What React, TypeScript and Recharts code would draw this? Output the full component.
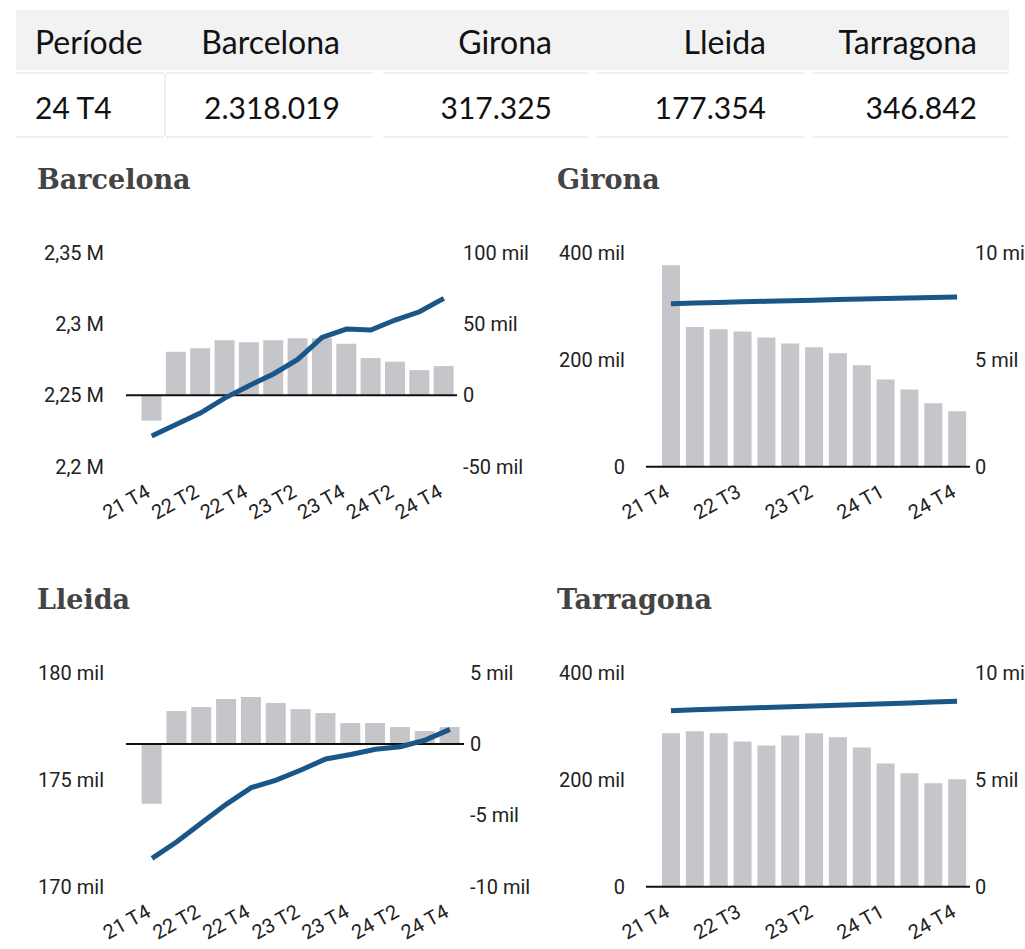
import React from "react";
import { Bar, ComposedChart, Line, ReferenceLine, XAxis, YAxis } from "recharts";

const quarters = [
  "21 T4", "22 T1", "22 T2", "22 T3", "22 T4", "23 T1", "23 T2",
  "23 T3", "23 T4", "24 T1", "24 T2", "24 T3", "24 T4",
];

// values in thousands
const barcelonaTotal = [2221.5, 2229.5, 2237.6, 2248.1, 2256.8, 2265.0, 2275.2, 2290.6, 2296.5, 2295.8, 2302.8, 2308.6, 2318.0];
const barcelonaChange = [-17.7, 30.6, 33.1, 38.7, 37.3, 38.7, 40.1, 40.1, 36.2, 26.1, 23.6, 17.7, 20.5];

const gironaTotal = [304.6, 305.8, 307.0, 308.1, 309.2, 310.2, 311.3, 312.3, 313.4, 314.4, 315.4, 316.4, 317.3];
const gironaChange = [9.41, 6.53, 6.42, 6.32, 6.04, 5.76, 5.58, 5.3, 4.74, 4.08, 3.61, 2.96, 2.59];

const lleidaTotal = [171.32, 172.1, 172.99, 173.86, 174.63, 174.98, 175.45, 175.97, 176.18, 176.42, 176.54, 176.85, 177.35];
const lleidaChange = [-4.18, 2.31, 2.59, 3.15, 3.29, 2.87, 2.45, 2.17, 1.47, 1.47, 1.19, 0.91, 1.19];

const tarragonaTotal = [329.1, 330.6, 332.0, 333.4, 334.9, 336.3, 337.7, 339.1, 340.5, 341.9, 343.4, 345.1, 346.8];
const tarragonaChange = [7.17, 7.26, 7.17, 6.79, 6.6, 7.07, 7.17, 6.98, 6.51, 5.76, 5.3, 4.83, 5.02];

const tableHeaders = ["Període", "Barcelona", "Girona", "Lleida", "Tarragona"];
const tableRow = ["24 T4", "2.318.019", "317.325", "177.354", "346.842"];

const BAR = "#c5c6ca";
const BLUE = "#1b5689";
const TICK = { fill: "#222", fontSize: 20, fontFamily: "Roboto, sans-serif" };

const fmtMil = (v: number) => (v === 0 ? "0" : `${v} mil`);
const fmtMillions = (v: number) => `${String(v / 1000).replace(".", ",")} M`;

type Geo = {
  x: number;
  y: number;
  leftW: number;
  plotW: number;
  rightW: number;
  leftGap: number;
  rightGap: number;
  padL: number;
  padR: number;
  barSize: number;
  interval: number;
};

type ChartProps = {
  title: string;
  total: number[];
  change: number[];
  leftDomain: [number, number];
  leftTicks: number[];
  leftFmt: (v: number) => string;
  rightDomain: [number, number];
  rightTicks: number[];
  geo: Geo;
};

function XTick(props: any) {
  const { x, y, payload } = props;
  const ty = y + 29;
  return (
    <text
      x={x}
      y={ty}
      textAnchor="end"
      transform={`rotate(-29, ${x}, ${ty})`}
      fill="#222"
      fontSize={20}
      fontFamily="Roboto, sans-serif"
    >
      {payload.value}
    </text>
  );
}

function RegionChart({ title, total, change, leftDomain, leftTicks, leftFmt, rightDomain, rightTicks, geo }: ChartProps) {
  const data = quarters.map((q, i) => ({ q, total: total[i], change: change[i] }));
  const top = 12.7;
  const xH = 70;
  return (
    <>
      <div
        style={{
          position: "absolute",
          left: geo.x + 17,
          top: geo.y - 73.6,
          fontFamily: "'DejaVu Serif', serif",
          fontWeight: 700,
          fontSize: 27,
          lineHeight: "27px",
          color: "#444",
        }}
      >
        {title}
      </div>
      <div style={{ position: "absolute", left: geo.x, top: geo.y }}>
        <ComposedChart
          width={geo.leftW + geo.plotW + geo.rightW}
          height={top + 214 + xH}
          data={data}
          margin={{ top, right: 0, bottom: 0, left: 0 }}
        >
          <XAxis
            dataKey="q"
            interval={geo.interval}
            axisLine={false}
            tickLine={false}
            tickSize={0}
            tickMargin={0}
            height={xH}
            padding={{ left: geo.padL, right: geo.padR }}
            tick={<XTick />}
          />
          <YAxis
            yAxisId="left"
            orientation="left"
            domain={leftDomain}
            ticks={leftTicks}
            interval={0}
            tickFormatter={leftFmt}
            axisLine={false}
            tickLine={false}
            tickSize={0}
            tickMargin={geo.leftGap}
            width={geo.leftW}
            tick={TICK}
          />
          <YAxis
            yAxisId="right"
            orientation="right"
            domain={rightDomain}
            ticks={rightTicks}
            interval={0}
            tickFormatter={fmtMil}
            axisLine={false}
            tickLine={false}
            tickSize={0}
            tickMargin={geo.rightGap}
            width={geo.rightW}
            tick={{ ...TICK, textAnchor: "start" }}
          />
          <Bar yAxisId="right" dataKey="change" fill={BAR} barSize={geo.barSize} isAnimationActive={false} />
          <ReferenceLine yAxisId="right" y={0} stroke="#111" strokeWidth={2} />
          <Line
            yAxisId="left"
            type="linear"
            dataKey="total"
            stroke={BLUE}
            strokeWidth={5}
            dot={false}
            activeDot={false}
            isAnimationActive={false}
          />
        </ComposedChart>
      </div>
    </>
  );
}

const cellRight = [0, 340, 552, 766, 977];
const rowBorders: [number, number][] = [
  [16, 164],
  [166, 373],
  [383, 588],
  [597, 804],
  [813, 1009],
];

function DataTable() {
  const headFont = { fontFamily: "Lato, sans-serif", fontSize: 32, lineHeight: "32px", color: "#111" };
  const bodyFont = { fontFamily: "Lato, sans-serif", fontSize: 30, lineHeight: "30px", color: "#111" };
  const place = (i: number, top: number, text: string, font: React.CSSProperties) =>
    i === 0 ? (
      <div key={`${top}-${i}`} style={{ ...font, position: "absolute", left: 35, top }}>
        {text}
      </div>
    ) : (
      <div
        key={`${top}-${i}`}
        style={{ ...font, position: "absolute", left: cellRight[i] - 200, width: 200, top, textAlign: "right" }}
      >
        {text}
      </div>
    );
  return (
    <>
      <div style={{ position: "absolute", left: 16, top: 10, width: 993, height: 60, background: "#f2f2f2" }} />
      {rowBorders.map(([a, b], i) => (
        <React.Fragment key={i}>
          <div style={{ position: "absolute", left: a, top: 72, width: b - a, height: 2, background: "#efefef" }} />
          <div style={{ position: "absolute", left: a, top: 136, width: b - a, height: 2, background: "#efefef" }} />
        </React.Fragment>
      ))}
      <div style={{ position: "absolute", left: 164, top: 74, width: 2, height: 62, background: "#efefef" }} />
      {tableHeaders.map((h, i) => place(i, 25.6, h, headFont))}
      {tableRow.map((v, i) => place(i, 92.4, v, bodyFont))}
    </>
  );
}

export default function App() {
  return (
    <div style={{ position: "absolute", left: 0, top: 0, width: 1025, height: 949, background: "#fff", overflow: "hidden" }}>
      <DataTable />
      <RegionChart
        title="Barcelona"
        total={barcelonaTotal}
        change={barcelonaChange}
        leftDomain={[2200, 2350]}
        leftTicks={[2200, 2250, 2300, 2350]}
        leftFmt={fmtMillions}
        rightDomain={[-50, 100]}
        rightTicks={[-50, 0, 50, 100]}
        geo={{ x: 20, y: 240, leftW: 106, plotW: 331, rightW: 80, leftGap: 22, rightGap: 6, padL: 13.5, padR: 1, barSize: 20, interval: 1 }}
      />
      <RegionChart
        title="Girona"
        total={gironaTotal}
        change={gironaChange}
        leftDomain={[0, 400]}
        leftTicks={[0, 200, 400]}
        leftFmt={fmtMil}
        rightDomain={[0, 10]}
        rightTicks={[0, 5, 10]}
        geo={{ x: 540, y: 240, leftW: 106, plotW: 324, rightW: 55, leftGap: 21, rightGap: 5, padL: 13, padR: 1, barSize: 18, interval: 2 }}
      />
      <RegionChart
        title="Lleida"
        total={lleidaTotal}
        change={lleidaChange}
        leftDomain={[170, 180]}
        leftTicks={[170, 175, 180]}
        leftFmt={fmtMil}
        rightDomain={[-10, 5]}
        rightTicks={[-10, -5, 0, 5]}
        geo={{ x: 20, y: 660, leftW: 106, plotW: 338, rightW: 80, leftGap: 22, rightGap: 6, padL: 13.6, padR: 1.6, barSize: 20, interval: 1 }}
      />
      <RegionChart
        title="Tarragona"
        total={tarragonaTotal}
        change={tarragonaChange}
        leftDomain={[0, 400]}
        leftTicks={[0, 200, 400]}
        leftFmt={fmtMil}
        rightDomain={[0, 10]}
        rightTicks={[0, 5, 10]}
        geo={{ x: 540, y: 660, leftW: 106, plotW: 324, rightW: 55, leftGap: 21, rightGap: 5, padL: 13, padR: 1, barSize: 18, interval: 2 }}
      />
    </div>
  );
}
